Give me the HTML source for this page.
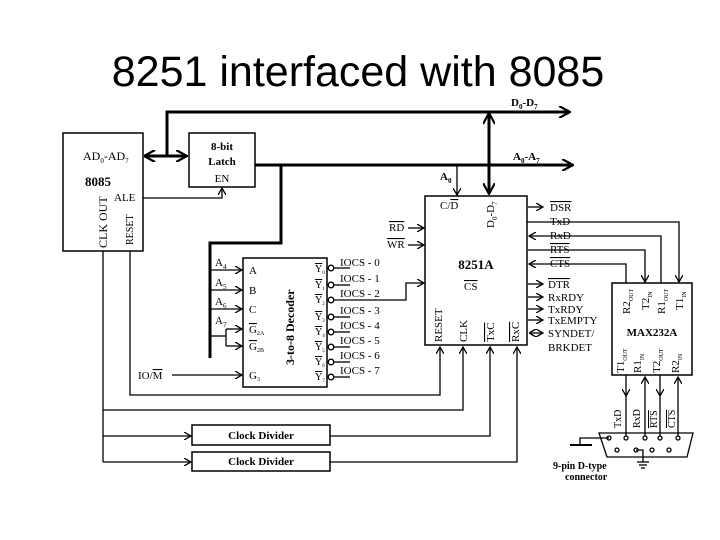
<!DOCTYPE html>
<html><head><meta charset="utf-8"><style>
html,body{margin:0;padding:0;background:#fff;}
svg{display:block;}
.t{font-family:"Liberation Serif",serif;font-size:11px;fill:#000;}
.b{font-weight:bold;}
</style></head><body>
<svg width="720" height="540" viewBox="0 0 720 540" xmlns="http://www.w3.org/2000/svg">
<defs>
<marker id="ar" markerWidth="8" markerHeight="8" refX="7" refY="4" orient="auto" markerUnits="userSpaceOnUse"><path d="M0,0 L7,4 L0,8" fill="none" stroke="#000" stroke-width="1.3"/></marker>
<marker id="arb" markerWidth="12" markerHeight="12" refX="11" refY="6" orient="auto" markerUnits="userSpaceOnUse"><path d="M0,0 L11,6 L0,12" fill="none" stroke="#000" stroke-width="2.2"/></marker>
<marker id="ars" markerWidth="8" markerHeight="8" refX="1" refY="4" orient="auto" markerUnits="userSpaceOnUse"><path d="M7,0 L0,4 L7,8" fill="none" stroke="#000" stroke-width="1.3"/></marker>
<marker id="arbs" markerWidth="12" markerHeight="12" refX="1" refY="6" orient="auto" markerUnits="userSpaceOnUse"><path d="M11,0 L0,6 L11,12" fill="none" stroke="#000" stroke-width="2.2"/></marker>
</defs>
<text x="358" y="86" text-anchor="middle" font-family="Liberation Sans,sans-serif" font-size="43">8251 interfaced with 8085</text>

<g stroke="#000" fill="none" stroke-width="1.5">
<rect x="63" y="133" width="80" height="118"/>
<rect x="189" y="133" width="66" height="54"/>
<rect x="243" y="258" width="84" height="129"/>
<rect x="425" y="196" width="102" height="149"/>
<rect x="612" y="283" width="80" height="92"/>
<rect x="192" y="425" width="138" height="20"/>
<rect x="192" y="452" width="138" height="19"/>
</g>
<g stroke="#000" fill="none" stroke-width="3">
<line x1="145" y1="156" x2="187" y2="156" marker-start="url(#arbs)" marker-end="url(#arb)"/>
<polyline points="167,156 167,112 570,112" marker-end="url(#arb)"/>
<line x1="255" y1="165" x2="573" y2="165" marker-end="url(#arb)"/>
<polyline points="281,165 281,243 210,243 210,358"/>
<line x1="489" y1="114" x2="489" y2="194" marker-start="url(#arbs)" marker-end="url(#arb)"/>
</g>
<g stroke="#000" fill="none" stroke-width="1.3">
<polyline points="143,198 222,198 222,188" marker-end="url(#ar)"/>
<line x1="457" y1="165" x2="457" y2="195" marker-end="url(#ar)"/>
<line x1="210" y1="270" x2="242" y2="270" marker-end="url(#ar)"/>
<line x1="210" y1="290" x2="242" y2="290" marker-end="url(#ar)"/>
<line x1="210" y1="309" x2="242" y2="309" marker-end="url(#ar)"/>
<polyline points="210,336 222,336"/>
<polyline points="226,329 226,346"/>
<line x1="222" y1="336" x2="226" y2="336"/>
<line x1="226" y1="329" x2="242" y2="329" marker-end="url(#ar)"/>
<line x1="226" y1="346" x2="242" y2="346" marker-end="url(#ar)"/>
<line x1="172" y1="375" x2="242" y2="375" marker-end="url(#ar)"/>
<g>
<circle cx="331" cy="268" r="2.8"/><circle cx="331" cy="285" r="2.8"/><circle cx="331" cy="300" r="2.8"/><circle cx="331" cy="317" r="2.8"/>
<circle cx="331" cy="332" r="2.8"/><circle cx="331" cy="347" r="2.8"/><circle cx="331" cy="362" r="2.8"/><circle cx="331" cy="377" r="2.8"/>
<line x1="334" y1="268" x2="350" y2="268"/><line x1="334" y1="285" x2="350" y2="285"/><line x1="334" y1="317" x2="350" y2="317"/>
<line x1="334" y1="332" x2="350" y2="332"/><line x1="334" y1="347" x2="350" y2="347"/><line x1="334" y1="362" x2="350" y2="362"/><line x1="334" y1="377" x2="350" y2="377"/>
</g>
<polyline points="334,300 406,300 406,283 424,283" marker-end="url(#ar)"/>
<line x1="408" y1="228" x2="424" y2="228" marker-end="url(#ar)"/>
<line x1="408" y1="245" x2="424" y2="245" marker-end="url(#ar)"/>
<polyline points="130,251 130,395 440,395 440,347" marker-end="url(#ar)"/>
<polyline points="103,251 103,462"/>
<polyline points="103,410 463,410 463,347" marker-end="url(#ar)"/>
<line x1="103" y1="436" x2="191" y2="436" marker-end="url(#ar)"/>
<line x1="103" y1="462" x2="191" y2="462" marker-end="url(#ar)"/>
<polyline points="330,436 490,436 490,347" marker-end="url(#ar)"/>
<polyline points="330,462 517,462 517,347" marker-end="url(#ar)"/>
<line x1="528" y1="207" x2="543" y2="207" marker-end="url(#ar)"/>
<polyline points="527,222 679,222 679,282" marker-end="url(#ar)"/>
<polyline points="661,283 661,236 529,236" marker-end="url(#ar)"/>
<polyline points="528,250 645,250 645,282" marker-end="url(#ar)"/>
<polyline points="626,283 626,264 529,264" marker-end="url(#ar)"/>
<line x1="528" y1="284" x2="543" y2="284" marker-end="url(#ar)"/>
<line x1="528" y1="297" x2="543" y2="297" marker-end="url(#ar)"/>
<line x1="528" y1="309" x2="543" y2="309" marker-end="url(#ar)"/>
<line x1="528" y1="320" x2="543" y2="320" marker-end="url(#ar)"/>
<line x1="530" y1="333" x2="543" y2="333" marker-start="url(#ars)" marker-end="url(#ar)"/>
<line x1="626" y1="375" x2="626" y2="396" marker-end="url(#ar)"/><line x1="626" y1="396" x2="626" y2="436"/>
<line x1="645" y1="436" x2="645" y2="377" marker-end="url(#ar)"/>
<line x1="660" y1="375" x2="660" y2="396" marker-end="url(#ar)"/><line x1="660" y1="396" x2="660" y2="436"/>
<line x1="678" y1="436" x2="678" y2="377" marker-end="url(#ar)"/>
<path d="M599,433 L693,433 L687,457 L607,457 Z"/>
<circle cx="609" cy="438" r="2"/><circle cx="626" cy="438" r="2"/><circle cx="645" cy="438" r="2"/><circle cx="660" cy="438" r="2"/><circle cx="678" cy="438" r="2"/>
<circle cx="617" cy="450" r="2"/><circle cx="636" cy="450" r="2"/><circle cx="652" cy="450" r="2"/><circle cx="669" cy="450" r="2"/>
<polyline points="609,438 580,438 580,445"/>
<line x1="570" y1="445" x2="592" y2="445" stroke-width="2"/>
<polyline points="636,450 643,450 643,462"/>
<line x1="637" y1="462" x2="649" y2="462"/><line x1="639" y1="465" x2="647" y2="465"/><line x1="641" y1="468" x2="645" y2="468"/>
</g>

<g class="t">
<text x="83" y="160" font-size="12">AD<tspan font-size="7" dy="3">0</tspan><tspan dy="-3">-AD</tspan><tspan font-size="7" dy="3">7</tspan></text>
<text x="85" y="186" class="b" font-size="13">8085</text>
<text x="114" y="201" font-size="11">ALE</text>
<text transform="translate(107,248) rotate(-90)" font-size="12">CLK OUT</text>
<text transform="translate(133,245) rotate(-90)" font-size="10">RESET</text>
<text x="222" y="150" class="b" text-anchor="middle">8-bit</text>
<text x="222" y="165" class="b" text-anchor="middle">Latch</text>
<text x="222" y="182" text-anchor="middle">EN</text>
<text x="511" y="106" class="b">D<tspan font-size="7" dy="3">0</tspan><tspan dy="-3">-D</tspan><tspan font-size="7" dy="3">7</tspan></text>
<text x="513" y="160" class="b">A<tspan font-size="7" dy="3">0</tspan><tspan dy="-3">-A</tspan><tspan font-size="7" dy="3">7</tspan></text>
<text x="440" y="180" class="b">A<tspan font-size="7" dy="3">0</tspan></text>
<text x="215" y="266">A<tspan font-size="7" dy="3">4</tspan></text>
<text x="215" y="286">A<tspan font-size="7" dy="3">5</tspan></text>
<text x="215" y="305">A<tspan font-size="7" dy="3">6</tspan></text>
<text x="215" y="324">A<tspan font-size="7" dy="3">7</tspan></text>
<text x="138" y="379">IO/<tspan text-decoration="overline">M</tspan></text>
<text x="249" y="274">A</text><text x="249" y="294">B</text><text x="249" y="313">C</text>
<text x="249" y="333"><tspan text-decoration="overline">G</tspan><tspan font-size="6" dy="2">2A</tspan></text>
<text x="249" y="350"><tspan text-decoration="overline">G</tspan><tspan font-size="6" dy="2">2B</tspan></text>
<text x="249" y="379">G<tspan font-size="6" dy="2">3</tspan></text>
<text transform="translate(294,365) rotate(-90)" class="b" font-size="12">3-to-8 Decoder</text>
<g font-size="10">
<text x="315" y="272"><tspan text-decoration="overline">Y</tspan><tspan font-size="5" dy="2">0</tspan></text>
<text x="315" y="288"><tspan text-decoration="overline">Y</tspan><tspan font-size="5" dy="2">1</tspan></text>
<text x="315" y="303"><tspan text-decoration="overline">Y</tspan><tspan font-size="5" dy="2">2</tspan></text>
<text x="315" y="320"><tspan text-decoration="overline">Y</tspan><tspan font-size="5" dy="2">3</tspan></text>
<text x="315" y="335"><tspan text-decoration="overline">Y</tspan><tspan font-size="5" dy="2">4</tspan></text>
<text x="315" y="350"><tspan text-decoration="overline">Y</tspan><tspan font-size="5" dy="2">5</tspan></text>
<text x="315" y="365"><tspan text-decoration="overline">Y</tspan><tspan font-size="5" dy="2">6</tspan></text>
<text x="315" y="380"><tspan text-decoration="overline">Y</tspan><tspan font-size="5" dy="2">7</tspan></text>
</g>
<text x="340" y="266">IOCS - 0</text><text x="340" y="282">IOCS - 1</text><text x="340" y="297">IOCS - 2</text><text x="340" y="314">IOCS - 3</text>
<text x="340" y="329">IOCS - 4</text><text x="340" y="344">IOCS - 5</text><text x="340" y="359">IOCS - 6</text><text x="340" y="374">IOCS - 7</text>
<text x="389" y="231"><tspan text-decoration="overline">RD</tspan></text>
<text x="387" y="248"><tspan text-decoration="overline">WR</tspan></text>
<text x="440" y="209">C/<tspan text-decoration="overline">D</tspan></text>
<text transform="translate(494,228) rotate(-90)">D<tspan font-size="7" dy="3">0</tspan><tspan dy="-3">-D</tspan><tspan font-size="7" dy="3">7</tspan></text>
<text x="476" y="269" class="b" font-size="13" text-anchor="middle">8251A</text>
<text x="464" y="290"><tspan text-decoration="overline">CS</tspan></text>
<text transform="translate(442,342) rotate(-90)">RESET</text>
<text transform="translate(467,342) rotate(-90)">CLK</text>
<text transform="translate(494,342) rotate(-90)"><tspan text-decoration="overline">TxC</tspan></text>
<text transform="translate(519,342) rotate(-90)"><tspan text-decoration="overline">RxC</tspan></text>
<text x="550" y="211"><tspan text-decoration="overline">DSR</tspan></text>
<text x="550" y="225">TxD</text>
<text x="550" y="239">RxD</text>
<text x="550" y="253"><tspan text-decoration="overline">RTS</tspan></text>
<text x="550" y="267"><tspan text-decoration="overline">CTS</tspan></text>
<text x="548" y="288"><tspan text-decoration="overline">DTR</tspan></text>
<text x="548" y="301">RxRDY</text>
<text x="548" y="313">TxRDY</text>
<text x="548" y="324">TxEMPTY</text>
<text x="548" y="337">SYNDET/</text>
<text x="548" y="351">BRKDET</text>
<text transform="translate(630,314) rotate(-90)">R2<tspan font-size="6" dy="3">OUT</tspan></text>
<text transform="translate(649,310) rotate(-90)">T2<tspan font-size="6" dy="3">IN</tspan></text>
<text transform="translate(665,314) rotate(-90)">R1<tspan font-size="6" dy="3">OUT</tspan></text>
<text transform="translate(683,310) rotate(-90)">T1<tspan font-size="6" dy="3">IN</tspan></text>
<text x="652" y="336" class="b" text-anchor="middle">MAX232A</text>
<text transform="translate(624,373) rotate(-90)">T1<tspan font-size="6" dy="3">OUT</tspan></text>
<text transform="translate(641,373) rotate(-90)">R1<tspan font-size="6" dy="3">IN</tspan></text>
<text transform="translate(660,373) rotate(-90)">T2<tspan font-size="6" dy="3">OUT</tspan></text>
<text transform="translate(679,373) rotate(-90)">R2<tspan font-size="6" dy="3">IN</tspan></text>
<text transform="translate(621,428) rotate(-90)" font-size="10">TxD</text>
<text transform="translate(640,428) rotate(-90)" font-size="10">RxD</text>
<text transform="translate(657,428) rotate(-90)" font-size="10"><tspan text-decoration="overline">RTS</tspan></text>
<text transform="translate(675,428) rotate(-90)" font-size="10"><tspan text-decoration="overline">CTS</tspan></text>
<text x="553" y="469" class="b" font-size="10">9-pin D-type</text>
<text x="565" y="480" class="b" font-size="10">connector</text>
<text x="261" y="439" class="b" text-anchor="middle">Clock Divider</text>
<text x="261" y="465" class="b" text-anchor="middle">Clock Divider</text>
</g>
</svg>
</body></html>
